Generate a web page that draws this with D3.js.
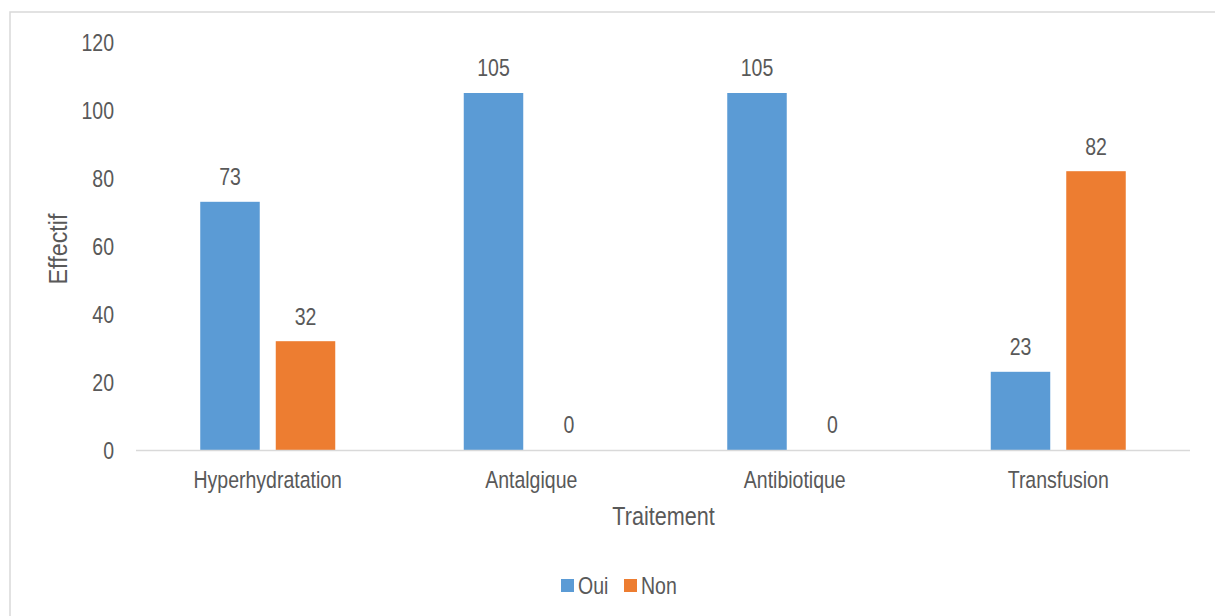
<!DOCTYPE html>
<html>
<head>
<meta charset="utf-8">
<script src="https://cdn.jsdelivr.net/npm/d3@7"></script>
<style>
  html, body { margin: 0; padding: 0; background: #ffffff; }
  svg text { font-family: "Liberation Sans Narrow", "Arial Narrow", "Liberation Sans", Arial, sans-serif; fill: #595959; }
</style>
</head>
<body>
<svg id="chart" width="1215" height="616"></svg>
<script>
// Treatments and counts per answer
const categories = ["Hyperhydratation", "Antalgique", "Antibiotique", "Transfusion"];
const seriesNames = ["Oui", "Non"];
const ouiValues = [73, 105, 105, 23];
const nonValues = [32, 0, 0, 82];
const yTicks = [0, 20, 40, 60, 80, 100, 120];
const colors = { Oui: "#5B9BD5", Non: "#ED7D31" };

const seriesValues = { Oui: ouiValues, Non: nonValues };
const rows = categories.map((c, i) => ({
  category: c,
  values: seriesNames.map(s => ({ series: s, value: seriesValues[s][i] }))
}));

const FONT_SIZE = 23.5;
const TITLE_SIZE = 26;
const SQUEEZE = 0.83; // horizontal narrowing to get a condensed face

// narrow each text horizontally around its own anchor point
function condense(sel, k = SQUEEZE) {
  sel.each(function () {
    const t = d3.select(this);
    const x = +t.attr("x") || 0;
    const y = +t.attr("y") || 0;
    t.attr("transform", `translate(${x},${y}) scale(${k},1) translate(${-x},${-y})`);
  });
}

const svg = d3.select("#chart");
const W = 1215, H = 616;

// chart frame
svg.append("rect")
  .attr("x", 10).attr("y", 12)
  .attr("width", W + 10).attr("height", H + 10)
  .attr("fill", "#ffffff")
  .attr("stroke", "#D9D9D9").attr("stroke-width", 1.5);

const plot = { left: 136, right: 1190, top: 42, bottom: 450 };

const x0 = d3.scaleBand()
  .domain(categories)
  .range([plot.left, plot.right])
  .padding(0);

const x1 = d3.scaleBand()
  .domain(seriesNames)
  .range([0, x0.bandwidth()])
  .paddingInner(0.212)
  .paddingOuter(0.851);

const y = d3.scaleLinear()
  .domain([0, 120])
  .range([plot.bottom, plot.top]);

// y axis labels (no axis line, no gridlines)
const yAxis = d3.axisLeft(y).tickValues(yTicks).tickSize(0).tickPadding(0);
const yg = svg.append("g")
  .attr("transform", `translate(114,0)`)
  .call(yAxis);
yg.attr("font-family", null).attr("font-size", null);
yg.select(".domain").remove();
yg.selectAll("text")
  .attr("font-size", FONT_SIZE)
  .attr("x", 0)
  .attr("dy", "0.35em")
  .call(condense);

// bars
const groups = svg.append("g").selectAll("g")
  .data(rows)
  .join("g")
  .attr("transform", d => `translate(${x0(d.category)},0)`);

groups.selectAll("rect")
  .data(d => d.values)
  .join("rect")
  .attr("x", d => x1(d.series))
  .attr("y", d => y(d.value))
  .attr("width", x1.bandwidth())
  .attr("height", d => y(0) - y(d.value))
  .attr("fill", d => colors[d.series]);

// value labels
groups.selectAll("text.value")
  .data(d => d.values)
  .join("text")
  .attr("class", "value")
  .attr("x", d => x1(d.series) + x1.bandwidth() / 2)
  .attr("y", d => y(d.value) - 16.5)
  .attr("text-anchor", "middle")
  .attr("font-size", FONT_SIZE)
  .text(d => d.value)
  .call(condense);

// category axis
const xAxis = d3.axisBottom(x0).tickSize(0).tickPadding(0);
const xg = svg.append("g")
  .attr("transform", `translate(0,${plot.bottom})`)
  .call(xAxis);
xg.attr("font-family", null).attr("font-size", null);
xg.select(".domain")
  .attr("stroke", "#D9D9D9")
  .attr("stroke-width", 1.5)
  .attr("d", `M${plot.left},0.5H${plot.right}`);
xg.selectAll("text")
  .attr("x", 0)
  .attr("y", 38)
  .attr("dy", null)
  .attr("font-size", FONT_SIZE)
  .call(condense);

// axis titles
svg.append("text")
  .attr("x", 663.5).attr("y", 525)
  .attr("text-anchor", "middle")
  .attr("font-size", TITLE_SIZE)
  .text("Traitement")
  .call(condense);

svg.append("text")
  .attr("transform", `translate(67,249) rotate(-90) scale(0.9,1)`)
  .attr("text-anchor", "middle")
  .attr("font-size", TITLE_SIZE)
  .text("Effectif");

// legend
const legend = svg.append("g").attr("transform", "translate(561,579)");
const legendItems = legend.selectAll("g")
  .data(seriesNames)
  .join("g")
  .attr("transform", (d, i) => `translate(${i * 63},0)`);
legendItems.append("rect")
  .attr("width", 13).attr("height", 13)
  .attr("fill", d => colors[d]);
legendItems.append("text")
  .attr("x", 17).attr("y", 15)
  .attr("font-size", FONT_SIZE)
  .text(d => d)
  .call(condense);
</script>
</body>
</html>
